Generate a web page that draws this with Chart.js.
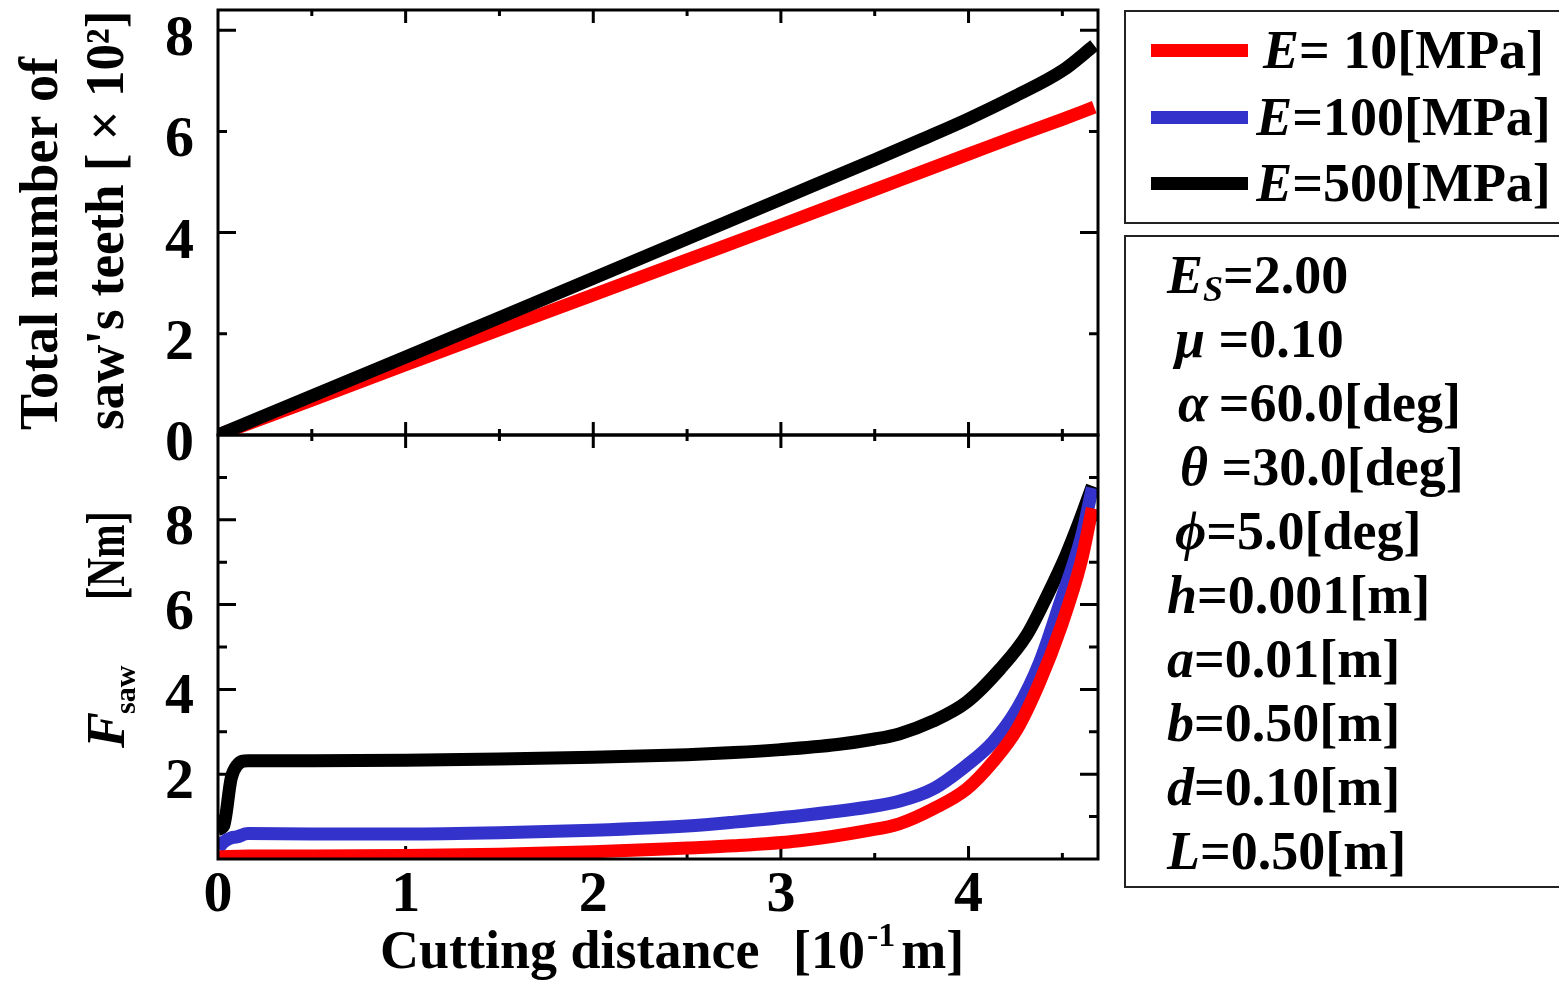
<!DOCTYPE html>
<html>
<head>
<meta charset="utf-8">
<script src="https://cdn.jsdelivr.net/npm/chart.js@4/dist/chart.umd.min.js"></script>
<style>
  body { margin: 0; overflow: hidden; background: #fff; }
  #wrap { position: relative; width: 1559px; height: 983px; font-family: "Liberation Serif", "Times New Roman", serif; font-weight: bold; color: #000; }
  canvas { position: absolute; left: 0; top: 0; }
  .box { position: absolute; left: 1124px; width: 470px; border: 2px solid #222; box-sizing: border-box; background: transparent; }
  #legendBox { top: 10px; height: 214px; }
  #paramBox { top: 235px; height: 653px; padding: 6px 0 0 41px; }
  .legRow { position: absolute; left: 0; height: 66px; display: flex; align-items: center; }
  .swatch { margin-left: 25px; width: 97px; height: 13px; }
  .legText { width: 303px; margin-left: 4px; text-align: center; font-size: 54px; line-height: 1; white-space: pre; }
  .param { font-size: 54px; line-height: 64px; white-space: pre; }
  .param sub { font-size: 36px; vertical-align: -8px; line-height: 0; font-style: italic; }
</style>
</head>
<body>
<div id="wrap">
  <canvas id="bottomChart" width="1559" height="983"></canvas>
  <canvas id="topChart" width="1559" height="983"></canvas>
  <div id="legendBox" class="box"></div>
  <div id="paramBox" class="box"></div>
</div>
<script>
// series
const seriesModulus = [" 10", "100", "500"];
const seriesColors = ["#ff0000", "#3333cc", "#000000"];

// upper panel: total number of saw's teeth [x10^2]
const topX     = [0, 0.5, 1, 1.5, 2, 2.5, 3, 3.5, 3.75, 4, 4.25, 4.5, 4.67];
const topRed   = [0, 0.69, 1.39, 2.08, 2.77, 3.46, 4.15, 4.85, 5.2, 5.55, 5.9, 6.24, 6.48];
const topBlack = [0, 0.77, 1.54, 2.32, 3.1, 3.88, 4.66, 5.44, 5.84, 6.25, 6.7, 7.2, 7.7];

// lower panel: F_saw [Nm]
const botRedX   = [0, 0.16, 0.5, 1.0, 1.5, 2.0, 2.5, 2.75, 3.1, 3.46, 3.63, 3.81, 3.99, 4.13, 4.26, 4.38, 4.49, 4.6, 4.66];
const botRed    = [0.05, 0.07, 0.07, 0.08, 0.11, 0.17, 0.26, 0.31, 0.43, 0.67, 0.83, 1.18, 1.65, 2.29, 3.07, 4.18, 5.44, 7.01, 8.27];
const botBlueX  = [0, 0.03, 0.07, 0.1, 0.16, 0.5, 1.0, 1.5, 2.0, 2.5, 2.75, 3.1, 3.46, 3.63, 3.81, 3.99, 4.13, 4.26, 4.38, 4.49, 4.6, 4.66];
const botBlue   = [0.25, 0.4, 0.5, 0.52, 0.6, 0.59, 0.59, 0.62, 0.68, 0.78, 0.87, 1.02, 1.22, 1.36, 1.65, 2.21, 2.76, 3.55, 4.65, 6.07, 7.57, 8.75];
const botBlackX = [0, 0.03, 0.07, 0.1, 0.16, 0.5, 1.0, 1.5, 2.0, 2.5, 2.75, 3.0, 3.3, 3.5, 3.63, 3.81, 3.99, 4.17, 4.31, 4.42, 4.52, 4.59, 4.66];
const botBlack  = [0.7, 0.78, 1.9, 2.2, 2.32, 2.32, 2.33, 2.36, 2.4, 2.46, 2.51, 2.58, 2.7, 2.83, 2.95, 3.25, 3.7, 4.49, 5.28, 6.22, 7.17, 7.95, 8.8];

// ticks
const xTickLabels = [0, 1, 2, 3, 4];
const topYTickLabels = [0, 2, 4, 6, 8];
const botYTickLabels = [2, 4, 6, 8];
const xMajorMarks = [1, 2, 3, 4];
const xMinorMarks = [0.5, 1.5, 2.5, 3.5, 4.5];
const topYMajorMarks = [4, 8];
const topYMinorMarks = [2, 6];
const botYMajorMarks = [2, 4, 6, 8];
const botYMinorMarks = [1, 3, 5, 7, 9];

// parameters
const paramSymbols = ["E<sub>S</sub>", "\u03bc ", "\u03b1\u2009", "\u03b8 ", "\u03d5", "h", "a", "b", "d", "L"];
const paramIndent  = [0, 8, 11, 13, 8, 0, 0, 0, 0, 0];
const paramValues  = ["=2.00", "=0.10", "=60.0[deg]", "=30.0[deg]", "=5.0[deg]", "=0.001[m]", "=0.01[m]", "=0.50[m]", "=0.10[m]", "=0.50[m]"];

const SERIF = '"Liberation Serif", "Times New Roman", serif';

const pts = (xs, ys) => xs.map((x, i) => ({ x: x, y: ys[i] }));

// frame with inward tick marks on all four sides
const frameTicks = {
    id: "frameTicks",
    beforeDatasetsDraw(chart, args, opts) {
        const { ctx, chartArea: a, scales } = chart;
        ctx.save();
        ctx.strokeStyle = "#000";
        ctx.lineWidth = 3;
        ctx.beginPath();
        const xm = (v, len) => {
            const px = scales.x.getPixelForValue(v);
            ctx.moveTo(px, a.bottom); ctx.lineTo(px, a.bottom - len);
            ctx.moveTo(px, a.top); ctx.lineTo(px, a.top + len);
        };
        const ym = (v, len) => {
            const py = scales.y.getPixelForValue(v);
            ctx.moveTo(a.left, py); ctx.lineTo(a.left + len, py);
            ctx.moveTo(a.right, py); ctx.lineTo(a.right - len, py);
        };
        xMajorMarks.forEach(v => xm(v, 13));
        xMinorMarks.forEach(v => xm(v, 6));
        opts.yMajor.forEach(v => ym(v, 18));
        opts.yMinor.forEach(v => ym(v, 9));
        ctx.stroke();
        ctx.restore();
    },
    afterDatasetsDraw(chart) {
        const { ctx, chartArea: a } = chart;
        ctx.save();
        ctx.strokeStyle = "#000";
        ctx.lineWidth = 3;
        ctx.strokeRect(a.left, a.top, a.right - a.left, a.bottom - a.top);
        ctx.restore();
    }
};

const topTitle = {
    id: "topTitle",
    afterDraw(chart) {
        const ctx = chart.ctx;
        ctx.save();
        ctx.fillStyle = "#000";
        ctx.font = "bold 54px " + SERIF;
        ctx.textAlign = "left";
        ctx.textBaseline = "alphabetic";
        ctx.translate(57, 430);
        ctx.rotate(-Math.PI / 2);
        ctx.fillText("Total number of", 0, 0);
        ctx.scale(0.98, 1);
        ctx.fillText("saw's teeth [ \u00d7 10\u00b2]", 0, 66);
        ctx.restore();
    }
};

const bottomTitles = {
    id: "bottomTitles",
    afterDraw(chart) {
        const ctx = chart.ctx;
        ctx.save();
        ctx.fillStyle = "#000";
        ctx.textAlign = "left";
        ctx.textBaseline = "alphabetic";

        // x title
        ctx.font = "bold 54px " + SERIF;
        ctx.fillText("Cutting distance", 380, 968);
        ctx.fillText("[10", 793, 968);
        let w = 793 + ctx.measureText("[10").width;
        ctx.font = "bold 34px " + SERIF;
        ctx.fillText("-1", w + 2, 946);
        w += ctx.measureText("-1").width + 8;
        ctx.font = "bold 54px " + SERIF;
        ctx.fillText("m]", w, 968);

        // y title
        ctx.translate(124, 748);
        ctx.rotate(-Math.PI / 2);
        ctx.font = "italic bold 54px " + SERIF;
        ctx.fillText("F", 0, 0);
        const p = ctx.measureText("F").width;
        ctx.font = "bold 30px " + SERIF;
        ctx.fillText("saw", p - 2, 11);
        ctx.translate(148, 0);
        ctx.scale(0.74, 1);
        ctx.font = "bold 54px " + SERIF;
        ctx.fillText("[Nm]", 0, 0);
        ctx.restore();
    }
};

const tickFont = { family: SERIF, size: 58, weight: "bold" };
const lineStyle = { borderWidth: 13, borderCapStyle: "butt", borderJoinStyle: "round", pointRadius: 0, cubicInterpolationMode: "monotone" };

const fixY = s => { s.width = 218; s.paddingTop = 0; s.paddingBottom = 0; };

new Chart(document.getElementById("topChart"), {
    type: "line",
    data: {
        datasets: [
            Object.assign({ label: "E=500", data: pts(topX, topBlack), borderColor: seriesColors[2] }, lineStyle),
            Object.assign({ label: "E=10", data: pts(topX, topRed), borderColor: seriesColors[0] }, lineStyle)
        ]
    },
    options: {
        responsive: false,
        animation: false,
        layout: { padding: { top: 10, bottom: 548, left: 0, right: 461 } },
        plugins: {
            legend: { display: false },
            tooltip: { enabled: false },
            frameTicks: { yMajor: topYMajorMarks, yMinor: topYMinorMarks }
        },
        scales: {
            x: { type: "linear", min: 0, max: 4.69, display: false },
            y: {
                type: "linear", min: 0, max: 8.4,
                afterFit: fixY,
                afterBuildTicks: s => { s.ticks = topYTickLabels.map(v => ({ value: v })); },
                grid: { display: false, drawTicks: false, tickLength: 0 },
                border: { display: false },
                ticks: { font: tickFont, color: "#000", padding: 24, labelOffset: 10 }
            }
        }
    },
    plugins: [frameTicks, topTitle]
});

new Chart(document.getElementById("bottomChart"), {
    type: "line",
    data: {
        datasets: [
            Object.assign({ label: "E=10", data: pts(botRedX, botRed), borderColor: seriesColors[0] }, lineStyle),
            Object.assign({ label: "E=100", data: pts(botBlueX, botBlue), borderColor: seriesColors[1] }, lineStyle),
            Object.assign({ label: "E=500", data: pts(botBlackX, botBlack), borderColor: seriesColors[2] }, lineStyle)
        ]
    },
    options: {
        responsive: false,
        animation: false,
        layout: { padding: { top: 435, bottom: 0, left: 0, right: 461 } },
        plugins: {
            legend: { display: false },
            tooltip: { enabled: false },
            frameTicks: { yMajor: botYMajorMarks, yMinor: botYMinorMarks }
        },
        scales: {
            x: {
                type: "linear", min: 0, max: 4.69,
                afterFit: s => { s.height = 124; s.paddingLeft = 0; s.paddingRight = 0; },
                afterBuildTicks: s => { s.ticks = xTickLabels.map(v => ({ value: v })); },
                grid: { display: false, drawTicks: false, tickLength: 0 },
                border: { display: false },
                ticks: { font: tickFont, color: "#000", padding: 2, maxRotation: 0 }
            },
            y: {
                type: "linear", min: 0, max: 10,
                afterFit: fixY,
                afterBuildTicks: s => { s.ticks = botYTickLabels.map(v => ({ value: v })); },
                grid: { display: false, drawTicks: false, tickLength: 0 },
                border: { display: false },
                ticks: { font: tickFont, color: "#000", padding: 24, labelOffset: 9 }
            }
        }
    },
    plugins: [frameTicks, bottomTitles]
});

// legend box
const legendBox = document.getElementById("legendBox");
const rowTops = [5, 72, 138];
seriesModulus.forEach((m, i) => {
    const row = document.createElement("div");
    row.className = "legRow";
    row.style.top = rowTops[i] + "px";
    row.innerHTML = '<div class="swatch" style="background:' + seriesColors[i] + '"></div>' +
        '<div class="legText"><i>E</i>=' + m + '[MPa]</div>';
    legendBox.appendChild(row);
});

// parameter box
const paramBox = document.getElementById("paramBox");
paramSymbols.forEach((s, i) => {
    const row = document.createElement("div");
    row.className = "param";
    row.innerHTML = '<span style="margin-left:' + paramIndent[i] + 'px"><i>' + s + '</i></span>' + paramValues[i];
    paramBox.appendChild(row);
});
</script>
</body>
</html>
